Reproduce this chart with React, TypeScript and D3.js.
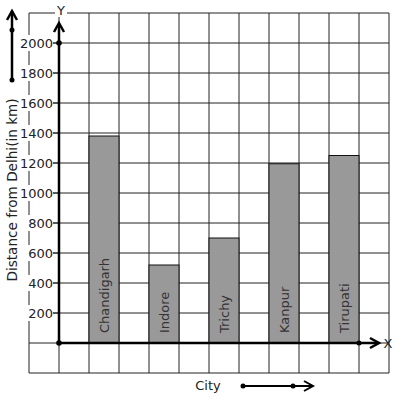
import React from "react";
import * as d3 from "d3";

const cities = ["Chandigarh", "Indore", "Trichy", "Kanpur", "Tirupati"];
const distances = [1380, 520, 700, 1195, 1250];
const yTicks = [200, 400, 600, 800, 1000, 1200, 1400, 1600, 1800, 2000];
const yTitle = "Distance from Delhi(in km)";
const xTitle = "City";

const W = 397;
const H = 399;
const FONT = "DejaVu Sans, sans-serif";

export default function App() {
  // columns: each grid cell is one unit; y-axis at 0
  const x = d3.scaleLinear().domain([-1, 11]).range([29, 389]);
  const y = d3.scaleLinear().domain([-200, 2200]).range([373, 13]);
  const gridX = d3.range(-1, 12, 1);
  const gridY = d3.range(-200, 2201, 200);
  const x0 = x(0);
  const y0 = y(0);
  const lineW = 2.5;

  const chevUp = (cx: number, top: number) =>
    `M${cx - 5},${top + 9} L${cx},${top} L${cx + 5},${top + 9}`;
  const chevRight = (right: number, cy: number) =>
    `M${right - 9},${cy - 5} L${right},${cy} L${right - 9},${cy + 5}`;

  return (
    <svg width={W} height={H} style={{ position: "absolute", left: 0, top: 0, background: "#fff" }}>
      <rect width={W} height={H} fill="#fff" />
      {/* grid */}
      {gridX.map((g) => (
        <line key={"gx" + g} x1={x(g)} x2={x(g)} y1={y(2200)} y2={y(-200)} stroke="#222" strokeWidth={1} />
      ))}
      {gridY.map((g) => (
        <line key={"gy" + g} x1={x(-1)} x2={x(11)} y1={y(g)} y2={y(g)} stroke="#222" strokeWidth={1} />
      ))}
      {/* bars */}
      {distances.map((d, i) => {
        const left = x(2 * i + 1);
        const right = x(2 * i + 2);
        return (
          <g key={cities[i]}>
            <rect x={left} y={y(d)} width={right - left} height={y0 - y(d)} fill="#999999" stroke="#111" strokeWidth={1} />
            <text
              transform={`translate(${(left + right) / 2 + 4.5},${y0 - 10}) rotate(-90)`}
              fontFamily={FONT}
              fontSize={13}
              fill="#333"
            >
              {cities[i]}
            </text>
          </g>
        );
      })}
      {/* y tick labels with white background */}
      {yTicks.map((t) => {
        const w = String(t).length * 8.1;
        return (
          <g key={"yt" + t}>
            <rect x={53 - w - 1} y={y(t) - 8} width={w + 1} height={16} fill="#fff" />
            <line x1={53} x2={x0} y1={y(t)} y2={y(t)} stroke="#222" strokeWidth={1} />
            <text x={53} y={y(t) + 4.5} textAnchor="end" fontFamily={FONT} fontSize={13} fill="#222">
              {t}
            </text>
          </g>
        );
      })}
      {/* axes */}
      <line x1={x0} x2={x0} y1={y0} y2={24} stroke="#000" strokeWidth={lineW} />
      <path d={chevUp(x0, 23)} fill="none" stroke="#000" strokeWidth={lineW} />
      <line x1={x0} x2={379} y1={y0} y2={y0} stroke="#000" strokeWidth={lineW} />
      <path d={chevRight(379, y0)} fill="none" stroke="#000" strokeWidth={lineW} />
      <circle cx={x0} cy={y0} r={2.8} fill="#000" />
      <circle cx={x0} cy={y(2000)} r={2.8} fill="#000" />
      <circle cx={x(10)} cy={y0} r={2.5} fill="#000" />
      {/* axis letters */}
      <rect x={55} y={3} width={12} height={14} fill="#fff" />
      <text x={61} y={14.5} textAnchor="middle" fontFamily={FONT} fontSize={13} fill="#222">Y</text>
      <text x={388} y={y0 + 4.5} textAnchor="middle" fontFamily={FONT} fontSize={13} fill="#222">X</text>
      {/* top-left arrow */}
      <line x1={12} x2={12} y1={80} y2={11} stroke="#000" strokeWidth={lineW} />
      <path d={chevUp(12, 11)} fill="none" stroke="#000" strokeWidth={lineW} />
      <circle cx={12} cy={30} r={2.5} fill="#000" />
      <circle cx={12} cy={80} r={2.5} fill="#000" />
      {/* y title */}
      <text
        transform={`translate(17,${190}) rotate(-90)`}
        textAnchor="middle"
        fontFamily={FONT}
        fontSize={13.6}
        fill="#222"
      >
        {yTitle}
      </text>
      {/* x title and arrow */}
      <text x={208} y={390} textAnchor="middle" fontFamily={FONT} fontSize={13} fill="#222">{xTitle}</text>
      <line x1={243} x2={313} y1={386} y2={386} stroke="#000" strokeWidth={2} />
      <path d={chevRight(313, 386)} fill="none" stroke="#000" strokeWidth={2} />
      <circle cx={243} cy={386} r={2.5} fill="#000" />
      <circle cx={293} cy={386} r={2.5} fill="#000" />
    </svg>
  );
}
